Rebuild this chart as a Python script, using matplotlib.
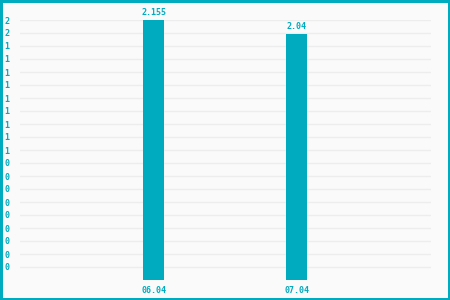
import math
import matplotlib
matplotlib.use("Agg")
import matplotlib.pyplot as plt

# data
categories = ["06.04", "07.04"]
values = [2.155, 2.04]
value_labels = ["2.155", "2.04"]

teal = "#00aabf"
n_grid = 20

fig = plt.figure(figsize=(4.5, 3), dpi=100)
fig.patch.set_facecolor("#fafafa")
fig.patch.set_edgecolor(teal)
fig.patch.set_linewidth(2.4)

ax = fig.add_axes([20 / 450, 20 / 300, 411 / 450, 260 / 300])
ax.set_facecolor("#fafafa")

top = max(values)
grid_vals = [top * k / n_grid for k in range(1, n_grid + 1)]
for g in grid_vals:
    ax.axhline(g, color="#ededed", linewidth=1.0, zorder=0)

x = list(range(len(categories)))
ax.bar(x, values, width=0.147, color=teal, zorder=2)

for xi, v, lab in zip(x, values, value_labels):
    ax.annotate(lab, (xi, v), xytext=(0, 2), textcoords="offset points",
                ha="center", va="bottom", fontsize=6, color=teal,
                family="DejaVu Sans Mono", fontweight="bold")

ax.set_xlim(-0.934, 1.94)
ax.set_ylim(0, top)

ax.set_yticks(grid_vals)
ax.set_yticklabels([str(math.floor(g)) for g in grid_vals])
ax.set_xticks(x)
ax.set_xticklabels(categories)
ax.tick_params(axis="y", length=0, pad=7.5, labelsize=6, labelcolor=teal)
ax.tick_params(axis="x", length=0, pad=4, labelsize=6, labelcolor=teal)
for lab in ax.get_xticklabels() + ax.get_yticklabels():
    lab.set_family("DejaVu Sans Mono")
    lab.set_fontweight("bold")

for s in ax.spines.values():
    s.set_visible(False)

fig.savefig("out.png", dpi=100, facecolor=fig.get_facecolor(), edgecolor=teal)
